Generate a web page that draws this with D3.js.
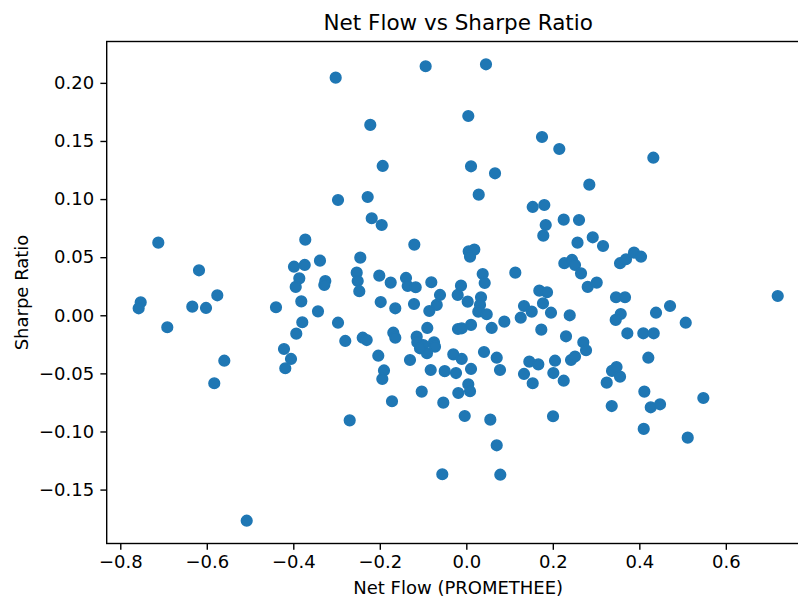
<!DOCTYPE html>
<html>
<head>
<meta charset="utf-8">
<script src="https://cdn.jsdelivr.net/npm/d3@7"></script>
<style>
  html, body { margin: 0; padding: 0; background: #fff; }
  svg { display: block; }
  text { font-family: "DejaVu Sans", sans-serif; fill: #000; }
</style>
</head>
<body>
<svg id="chart" width="798" height="599"></svg>
<script>
const titleText = "Net Flow vs Sharpe Ratio";
const xLabel = "Net Flow (PROMETHEE)";
const yLabel = "Sharpe Ratio";
const xTicks = [-0.8, -0.6, -0.4, -0.2, 0.0, 0.2, 0.4, 0.6];
const yTicks = [-0.15, -0.10, -0.05, 0.00, 0.05, 0.10, 0.15, 0.20];

const netFlow = [
  -0.302, -0.094, 0.0455, -0.222, 0.0046, 0.175, 0.215, -0.1933, 0.0109, 0.0664,
  -0.2966, -0.228, 0.0287, 0.1535, 0.1803, 0.4324, 0.2844, -0.7121, -0.3723, -0.618,
  -0.3984, -0.3736, -0.3383, -0.3861, -0.3944, -0.326, -0.3283, -0.5757, -0.7528, -0.7575,
  -0.6335, -0.6018, -0.44, -0.3815, -0.3429, -0.6913, -0.3792, -0.3931, -0.2966, -0.4215,
  -0.4053, -0.4185, -0.5595, -0.2798, -0.2187, -0.1956, -0.1202, 0.0055, 0.0185, 0.0086,
  -0.2451, -0.2534, -0.2511, -0.2474, -0.2012, -0.1748, -0.1394, -0.1355, -0.117, -0.0809,
  0.1133, 0.0379, 0.0425, -0.0123, -0.0199, -0.0608, 0.0032, 0.034, 0.0317, 0.0277,
  0.0472, -0.1979, -0.1642, -0.1209, -0.0684, -0.0855, 0.1836, 0.178, 0.2252, 0.2571,
  0.2266, 0.2444, 0.2513, 0.1688, 0.1866, 0.1773, 0.1334, 0.1512, 0.1258, 0.1958,
  0.2391, 0.0879, -0.0902, -0.0192, -0.0106, 0.0109, 0.0587, 0.1734, -0.2395, -0.2303,
  -0.1688, -0.1642, -0.1147, -0.1133, -0.0994, -0.0747, -0.0724, -0.0909, -0.1071, 0.2305,
  -0.2035, -0.1302, -0.0301, -0.0106, 0.0409, 0.0703, -0.0823, -0.1903, -0.1942, -0.0499,
  -0.0238, 0.0109, 0.0779, 0.1457, 0.1665, 0.2051, 0.2421, 0.2513, 0.1334, 0.2012,
  0.1535, 0.2252, 0.2606, 0.2923, 0.3161, 0.2652, 0.2807, 0.3015, 0.3554, 0.3692,
  0.3877, 0.4039, 0.3461, 0.3669, 0.357, 0.3454, 0.4386, 0.471, 0.5073, 0.72,
  0.3723, 0.4092, 0.4333, 0.2705, 0.2768, 0.4208, 0.3246, 0.3369, 0.3473, 0.3554,
  0.4116, 0.3362, 0.4264, 0.4479, 0.548, 0.4102, 0.5119, -0.1718, -0.1031, -0.0532,
  -0.0185, 0.0046, 0.0086, -0.2696, -0.0037, 0.0555, 0.2005, 0.0703, -0.0555, 0.0786,
  -0.5827, -0.5077
];

const sharpe = [
  0.2045, 0.2143, 0.216, 0.1638, 0.1715, 0.1534, 0.1431, 0.1285, 0.1282, 0.1222,
  0.0992, 0.1018, 0.1038, 0.0932, 0.0949, 0.1356, 0.1124, 0.0625, 0.0651, 0.0387,
  0.0418, 0.0433, 0.047, 0.0318, 0.0244, 0.0295, 0.0261, 0.0172, 0.0112, 0.006,
  0.0074, 0.0063, 0.0069, 0.012, 0.0034, -0.0103, -0.006, -0.0158, -0.0064, -0.029,
  -0.0376, -0.0456, -0.0391, -0.0221, 0.0835, 0.0777, 0.0608, 0.0551, 0.0565, 0.0504,
  0.0496, 0.0367, 0.0295, 0.0207, 0.0341, 0.0281, 0.0321, 0.0252, 0.0241, 0.0284,
  0.0367, 0.0355, 0.0278, 0.0255, 0.0175, 0.0175, 0.0117, 0.0155, 0.0089, 0.0031,
  0.0009, 0.0114, 0.006, 0.0097, 0.0089, 0.0037, 0.0777, 0.0685, 0.0823, 0.0625,
  0.0448, 0.0476, 0.0433, 0.0212, 0.0198, 0.0103, 0.008, 0.0031, -0.0021, 0.0022,
  0.0, -0.0055, -0.0109, -0.0118, -0.0112, -0.0083, -0.0109, -0.0124, -0.0193, -0.0213,
  -0.015, -0.0193, -0.0184, -0.0232, -0.0256, -0.0232, -0.027, -0.0327, -0.0284, -0.0181,
  -0.0348, -0.0385, -0.0336, -0.0376, -0.0316, -0.0365, -0.0471, -0.0475, -0.0548, -0.0481,
  -0.0497, -0.0462, -0.0471, -0.0399, -0.0422, -0.0391, -0.0385, -0.0355, -0.0505, -0.0497,
  -0.0585, -0.0563, 0.082, 0.0671, 0.0596, 0.0361, 0.0244, 0.0281, 0.0448, 0.0482,
  0.0539, 0.0504, 0.0155, 0.0155, 0.0011, -0.004, 0.0022, 0.008, -0.0064, 0.0166,
  -0.0155, -0.0155, -0.0155, -0.0232, -0.0301, -0.0365, -0.058, -0.0479, -0.0445, -0.0528,
  -0.0657, -0.0781, -0.0792, -0.0766, -0.0712, -0.0978, -0.1053, -0.074, -0.0657, -0.0752,
  -0.0669, -0.0594, -0.0654, -0.0904, -0.0867, -0.0898, -0.0869, -0.1119, -0.1368, -0.1372,
  -0.0585, -0.1768
];

const points = netFlow.map((v, i) => ({ x: v, y: sharpe[i] }));

const svg = d3.select("#chart");
const plotLeft = 106.7, plotRight = 809.7, plotTop = 41.5, plotBottom = 543.5;

const x = d3.scaleLinear().domain([-0.8314, 0.7939]).range([plotLeft, plotRight]);
const y = d3.scaleLinear().domain([-0.1964, 0.2356]).range([plotBottom, plotTop]);

// points
svg.append("g")
  .selectAll("circle")
  .data(points)
  .join("circle")
  .attr("cx", d => x(d.x))
  .attr("cy", d => y(d.y))
  .attr("r", 5.3)
  .attr("fill", "#1f77b4")
  .attr("stroke", "#1f77b4")
  .attr("stroke-width", 1.6);

// axes
const fmtX = d3.format(".1f");
const fmtY = d3.format(".2f");

const gx = svg.append("g")
  .attr("transform", `translate(0,${plotBottom})`)
  .call(d3.axisBottom(x).tickValues(xTicks).tickFormat(fmtX).tickSize(6.3).tickPadding(5));
gx.select(".domain").remove();
gx.selectAll(".tick line").attr("stroke", "#000").attr("stroke-width", 1.4);
gx.selectAll(".tick text").attr("font-size", 18).attr("font-family", "DejaVu Sans").attr("fill", "#000");

const gy = svg.append("g")
  .attr("transform", `translate(${plotLeft},0)`)
  .call(d3.axisLeft(y).tickValues(yTicks).tickFormat(fmtY).tickSize(6.3).tickPadding(6.3));
gy.select(".domain").remove();
gy.selectAll(".tick line").attr("stroke", "#000").attr("stroke-width", 1.4);
gy.selectAll(".tick text").attr("font-size", 18).attr("font-family", "DejaVu Sans").attr("fill", "#000");

// frame (spines)
svg.append("rect")
  .attr("x", plotLeft).attr("y", plotTop)
  .attr("width", plotRight - plotLeft).attr("height", plotBottom - plotTop)
  .attr("fill", "none").attr("stroke", "#000").attr("stroke-width", 1.4);

// title & labels
svg.append("text")
  .attr("x", (plotLeft + plotRight) / 2).attr("y", 29.5)
  .attr("text-anchor", "middle")
  .attr("font-size", 21.5)
  .text(titleText);

svg.append("text")
  .attr("x", (plotLeft + plotRight) / 2).attr("y", 594)
  .attr("text-anchor", "middle")
  .attr("font-size", 18)
  .text(xLabel);

svg.append("text")
  .attr("transform", `translate(27.5,${(plotTop + plotBottom) / 2}) rotate(-90)`)
  .attr("text-anchor", "middle")
  .attr("font-size", 18)
  .text(yLabel);
</script>
</body>
</html>
